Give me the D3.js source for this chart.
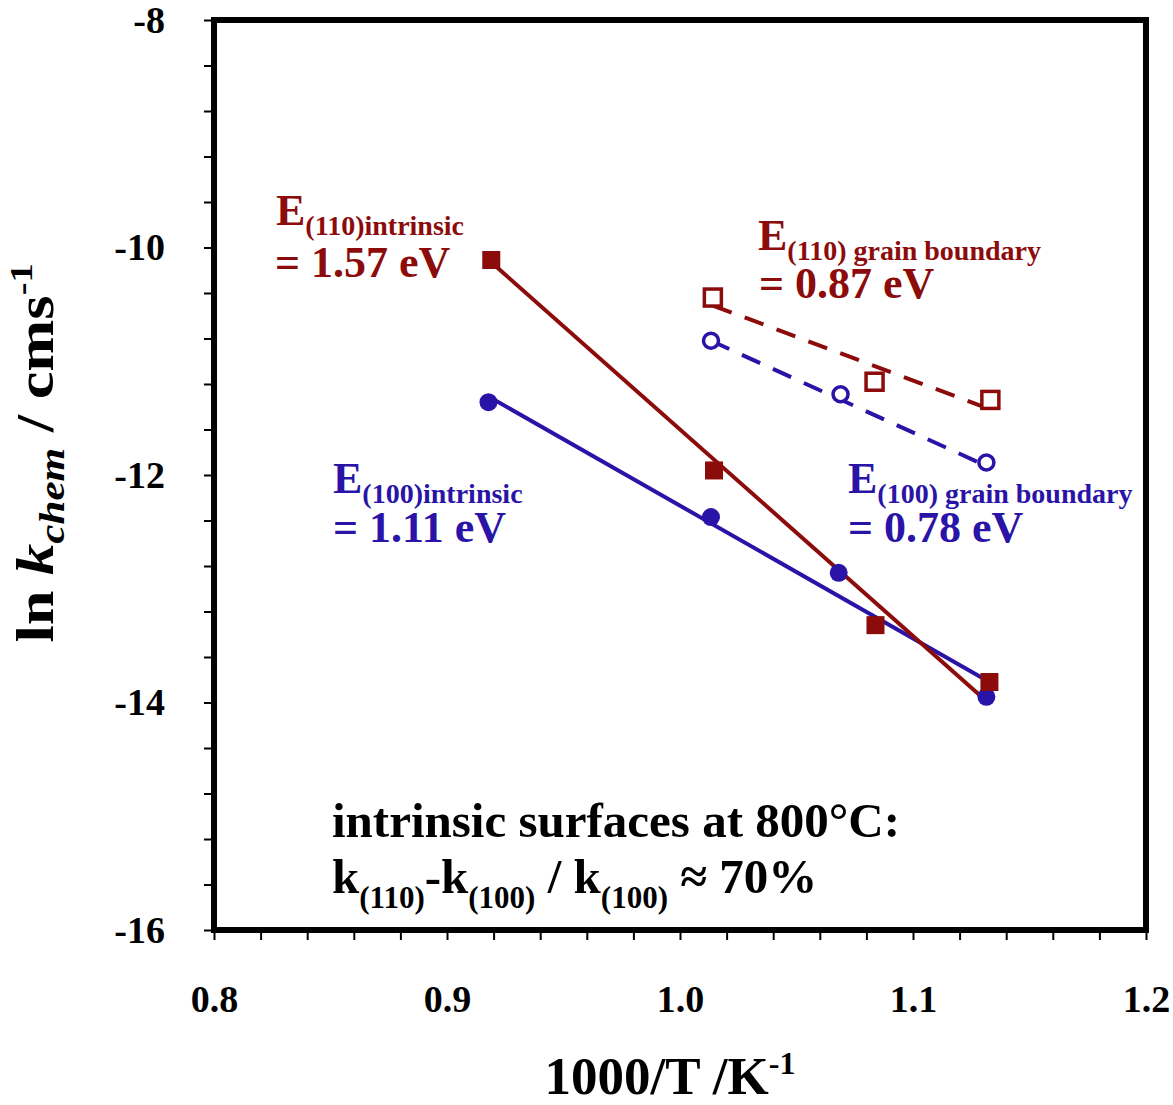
<!DOCTYPE html>
<html>
<head>
<meta charset="utf-8">
<script src="https://cdn.jsdelivr.net/npm/d3@7"></script>
<style>
body { margin: 0; background: #fff; }
svg text { font-family: "Liberation Serif", "Times New Roman", serif; font-weight: bold; }
</style>
</head>
<body>
<svg></svg>
<script>
// (110) intrinsic - filled squares
var x110int = [0.919, 1.0146, 1.0839, 1.1328];
var y110int = [-10.11, -11.96, -13.32, -13.82];
// (100) intrinsic - filled circles
var x100int = [0.9178, 1.0133, 1.0681, 1.1315];
var y100int = [-11.36, -12.37, -12.86, -13.95];
// (110) grain boundary - open squares
var x110gb = [1.0141, 1.0835, 1.1332];
var y110gb = [-10.44, -11.18, -11.34];
// (100) grain boundary - open circles
var x100gb = [1.0133, 1.0689, 1.1315];
var y100gb = [-10.82, -11.29, -11.89];

// fitted lines (end points)
var fitX110int = [0.919, 1.1328], fitY110int = [-10.13, -14.01];
var fitX100int = [0.9178, 1.1328], fitY100int = [-11.31, -13.82];
var fitX110gb = [1.0141, 1.1328], fitY110gb = [-10.51, -11.42];
var fitX100gb = [1.0133, 1.1315], fitY100gb = [-10.82, -11.92];

var xTicks = [0.8, 0.9, 1.0, 1.1, 1.2];
var yTicks = [-16, -14, -12, -10, -8];

var red = '#8c0b0b', blue = '#2a14a8';

var width = 1173, height = 1105;
var margin = { top: 20, left: 214, right: 27, bottom: 175 };
var chartWidth = width - margin.left - margin.right,
    chartHeight = height - margin.top - margin.bottom;

var svg = d3.select('svg').attr('width', width).attr('height', height);
var g = svg.append('g').attr('transform', 'translate(' + margin.left + ',' + margin.top + ')');

var x = d3.scaleLinear().domain([0.8, 1.2]).range([0, chartWidth]);
var y = d3.scaleLinear().domain([-16, -8]).range([chartHeight, 0]);

// minor ticks
var minorX = d3.range(0, 21).map(function(i) { return 0.8 + i * 0.02; });
var minorY = d3.range(0, 21).map(function(i) { return -16 + i * 0.4; });

var xMinor = g.append('g').attr('transform', 'translate(0,' + chartHeight + ')')
    .call(d3.axisBottom(x).tickValues(minorX).tickSize(10).tickFormat('').tickSizeOuter(0));
var yMinor = g.append('g')
    .call(d3.axisLeft(y).tickValues(minorY).tickSize(10).tickFormat('').tickSizeOuter(0));
[xMinor, yMinor].forEach(function(a) {
    a.select('.domain').remove();
    a.selectAll('line').attr('stroke', '#000').attr('stroke-width', 2);
});

var xAxis = g.append('g').attr('transform', 'translate(0,' + chartHeight + ')')
    .call(d3.axisBottom(x).tickValues(xTicks).tickSize(0).tickPadding(55).tickFormat(d3.format('.1f')));
var yAxis = g.append('g')
    .call(d3.axisLeft(y).tickValues(yTicks).tickSize(0).tickPadding(49).tickFormat(function(d) { return String(d); }));
[xAxis, yAxis].forEach(function(a) {
    a.select('.domain').remove();
    a.selectAll('text').attr('fill', '#000').style('font-size', '38px')
        .style('font-family', '"Liberation Serif", "Times New Roman", serif').style('font-weight', 'bold');
});

// frame
g.append('rect').attr('x', 0).attr('y', 0).attr('width', chartWidth).attr('height', chartHeight)
    .attr('fill', 'none').attr('stroke', '#000').attr('stroke-width', 6);

// lines
var line = d3.line().x(function(d) { return x(d[0]); }).y(function(d) { return y(d[1]); });
var addLine = function(xs, ys, color, dash) {
    g.append('path').datum(d3.zip(xs, ys)).attr('d', line)
        .attr('fill', 'none').attr('stroke', color).attr('stroke-width', 4)
        .attr('stroke-dasharray', dash ? '20,14' : null);
};
addLine(fitX100int, fitY100int, blue, false);
addLine(fitX110int, fitY110int, red, false);
addLine(fitX110gb, fitY110gb, red, true);
addLine(fitX100gb, fitY100gb, blue, true);

// markers
var addSquares = function(xs, ys, color, open) {
    var s = open ? 17 : 18;
    g.selectAll(null).data(d3.zip(xs, ys)).enter().append('rect')
        .attr('x', function(d) { return x(d[0]) - s / 2; })
        .attr('y', function(d) { return y(d[1]) - s / 2; })
        .attr('width', s).attr('height', s)
        .attr('fill', open ? '#fff' : color)
        .attr('stroke', open ? color : 'none').attr('stroke-width', 3.5);
};
var addCircles = function(xs, ys, color, open) {
    g.selectAll(null).data(d3.zip(xs, ys)).enter().append('circle')
        .attr('cx', function(d) { return x(d[0]); })
        .attr('cy', function(d) { return y(d[1]); })
        .attr('r', open ? 7.5 : 9)
        .attr('fill', open ? '#fff' : color)
        .attr('stroke', open ? color : 'none').attr('stroke-width', 3.5);
};
addCircles(x100int, y100int, blue, false);
addSquares(x110int, y110int, red, false);
addSquares(x110gb, y110gb, red, true);
addCircles(x100gb, y100gb, blue, true);

// text with sub/superscripts
var richText = function(parent, px, py, parts, color, anchor) {
    var t = parent.append('text').attr('x', px).attr('y', py).attr('fill', color)
        .style('text-anchor', anchor || 'start');
    var shift = 0;
    parts.forEach(function(p) {
        var off = p.off || 0;
        var ts = t.append('tspan').text(p.t).style('font-size', p.s + 'px').attr('dy', off - shift);
        if (p.i) ts.style('font-style', 'italic');
        shift = off;
    });
    return t;
};

// activation energy labels
richText(svg, 276, 225, [{ t: 'E', s: 44 }, { t: '(110)intrinsic', s: 28, off: 10 }], red);
richText(svg, 275, 277, [{ t: '= 1.57 eV', s: 44 }], red);
richText(svg, 758, 250, [{ t: 'E', s: 44 }, { t: '(110) grain boundary', s: 28, off: 10 }], red);
richText(svg, 759, 298, [{ t: '= 0.87 eV', s: 44 }], red);
richText(svg, 333, 493, [{ t: 'E', s: 44 }, { t: '(100)intrinsic', s: 28, off: 10 }], blue);
richText(svg, 333, 542, [{ t: '= 1.11 eV', s: 44 }], blue);
richText(svg, 848, 493, [{ t: 'E', s: 44 }, { t: '(100) grain boundary', s: 28, off: 10 }], blue);
richText(svg, 848, 542, [{ t: '= 0.78 eV', s: 44 }], blue);

// note
richText(svg, 332, 837, [{ t: 'intrinsic surfaces at 800°C:', s: 49 }], '#000');
richText(svg, 332, 893, [
    { t: 'k', s: 49 }, { t: '(110)', s: 31, off: 15 },
    { t: '-k', s: 49 }, { t: '(100)', s: 31, off: 15 },
    { t: ' / k', s: 49 }, { t: '(100)', s: 31, off: 15 },
    { t: ' \u2248 70%', s: 49 }
], '#000');

// axis titles
richText(svg, 670, 1094, [{ t: '1000/T /K', s: 53 }, { t: '-1', s: 32, off: -20 }], '#000', 'middle');
var yt = svg.append('g').attr('transform', 'translate(53,453) rotate(-90) scale(1.2,1)');
richText(yt, 0, 0, [
    { t: 'ln ', s: 52 }, { t: 'k', s: 52, i: true }, { t: 'chem', s: 36, i: true, off: 11 },
    { t: ' / cms', s: 52 }, { t: '-1', s: 32, off: -21 }
], '#000', 'middle');
</script>
</body>
</html>
